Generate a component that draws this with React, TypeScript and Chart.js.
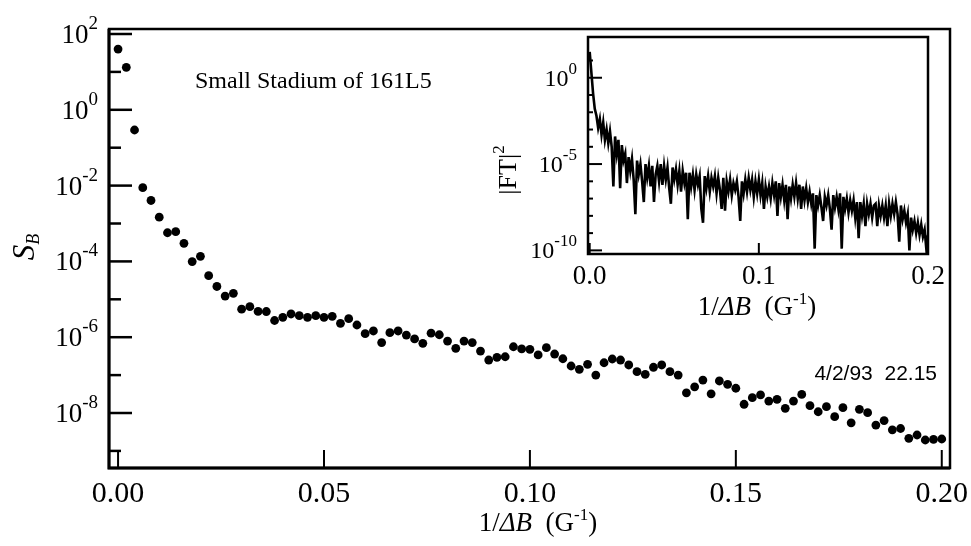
import React, { useEffect, useRef } from "react";
import { Chart, registerables } from "chart.js";

Chart.register(...registerables);

// ---------- main panel data ----------
const mainX = [
  0, 0.002, 0.004, 0.006, 0.008, 0.01, 0.012, 0.014, 0.016, 0.018,
  0.02, 0.022, 0.024, 0.026, 0.028, 0.03, 0.032, 0.034, 0.036, 0.038,
  0.04, 0.042, 0.044, 0.046, 0.048, 0.05, 0.052, 0.054, 0.056, 0.058,
  0.06, 0.062, 0.064, 0.066, 0.068, 0.07, 0.072, 0.074, 0.076, 0.078,
  0.08, 0.082, 0.084, 0.086, 0.088, 0.09, 0.092, 0.094, 0.096, 0.098,
  0.1, 0.102, 0.104, 0.106, 0.108, 0.11, 0.112, 0.114, 0.116, 0.118,
  0.12, 0.122, 0.124, 0.126, 0.128, 0.13, 0.132, 0.134, 0.136, 0.138,
  0.14, 0.142, 0.144, 0.146, 0.148, 0.15, 0.152, 0.154, 0.156, 0.158,
  0.16, 0.162, 0.164, 0.166, 0.168, 0.17, 0.172, 0.174, 0.176, 0.178,
  0.18, 0.182, 0.184, 0.186, 0.188, 0.19, 0.192, 0.194, 0.196, 0.198,
  0.2,
];
const mainSB = [
  40, 13.2, 0.293, 8.8e-3, 4.05e-3, 1.47e-3, 5.7e-4, 6.1e-4, 3.0e-4, 9.9e-5,
  1.36e-4, 4.2e-5, 2.18e-5, 1.22e-5, 1.44e-5, 5.5e-6, 6.4e-6, 4.8e-6, 4.76e-6, 2.76e-6,
  3.35e-6, 4.1e-6, 3.69e-6, 3.35e-6, 3.69e-6, 3.35e-6, 3.56e-6, 2.33e-6, 3.08e-6, 2.1e-6,
  1.24e-6, 1.46e-6, 7.2e-7, 1.32e-6, 1.46e-6, 1.14e-6, 9.0e-7, 6.9e-7, 1.28e-6, 1.16e-6,
  7.9e-7, 5.1e-7, 7.9e-7, 7.2e-7, 4.3e-7, 2.5e-7, 2.95e-7, 3.05e-7, 5.6e-7, 4.9e-7,
  4.8e-7, 3.4e-7, 5.3e-7, 3.6e-7, 2.7e-7, 1.74e-7, 1.42e-7, 1.93e-7, 1.0e-7, 2.12e-7,
  2.66e-7, 2.5e-7, 1.85e-7, 1.23e-7, 1.05e-7, 1.61e-7, 1.85e-7, 1.23e-7, 1.0e-7, 3.4e-8,
  4.9e-8, 7.4e-8, 3.2e-8, 7.0e-8, 5.7e-8, 4.5e-8, 1.7e-8, 2.54e-8, 3.0e-8, 2.07e-8,
  2.3e-8, 1.33e-8, 2.07e-8, 3.1e-8, 1.56e-8, 1.08e-8, 1.47e-8, 8.0e-9, 1.38e-8, 5.5e-9,
  1.25e-8, 1.02e-8, 4.8e-9, 6.3e-9, 3.6e-9, 3.9e-9, 2.15e-9, 2.63e-9, 1.94e-9, 2.02e-9,
  2.06e-9,
];
const mainXTicks = [0, 0.05, 0.1, 0.15, 0.2];
const mainXTickLabels = ["0.00", "0.05", "0.10", "0.15", "0.20"];
const mainYLabelExps = [2, 0, -2, -4, -6, -8];
const mainYMinorExps = [1, -1, -3, -5, -7, -9];

// ---------- inset data (log10 of |FT|^2, sampled every 0.001 G^-1) ----------
const insetDx = 0.001;
const insetLogFT = [
  1.5, 0.3, -0.9, -1.8, -2.2, -2.9, -2.4, -3.3, -2.6, -3.6,
  -3.0, -3.8, -3.1, -4.0, -6.3, -3.4, -4.4, -3.6, -6.4, -3.9,
  -4.8, -4.4, -6.1, -4.6, -5.4, -4.7, -5.9, -7.9, -4.8, -5.6,
  -5.0, -6.0, -7.2, -5.0, -5.8, -5.1, -6.3, -5.1, -7.2, -5.6,
  -5.1, -6.0, -5.0, -6.2, -5.1, -5.9, -5.2, -6.4, -7.3, -5.2,
  -5.9, -5.3, -6.2, -5.4, -6.6, -5.4, -6.1, -5.5, -8.2, -5.5,
  -6.3, -5.6, -6.5, -5.6, -6.2, -5.7, -7.6, -8.4, -5.7, -6.4,
  -5.7, -6.6, -5.8, -6.3, -5.7, -6.7, -5.8, -6.5, -7.6, -5.8,
  -7.7, -6.0, -6.6, -5.9, -6.8, -6.1, -6.5, -6.0, -6.9, -8.3,
  -6.0, -6.7, -5.9, -6.6, -5.8, -6.5, -5.9, -6.9, -6.0, -6.7,
  -5.9, -6.8, -6.1, -7.6, -6.3, -6.9, -6.3, -7.0, -6.1, -6.8,
  -6.0, -8.0, -6.1, -6.9, -6.2, -7.1, -6.2, -8.2, -6.3, -7.0,
  -6.2, -6.9, -6.1, -7.0, -6.2, -7.6, -6.3, -7.1, -6.4, -7.2,
  -6.6, -7.3, -6.7, -9.9, -6.8, -7.4, -6.8, -7.5, -8.3, -6.9,
  -7.4, -6.8, -7.6, -8.8, -6.8, -7.5, -6.9, -7.6, -6.7, -9.9,
  -6.9, -7.6, -7.0, -7.8, -7.1, -7.7, -7.1, -8.1, -7.2, -9.3,
  -7.2, -8.0, -7.3, -8.6, -7.3, -7.9, -7.3, -8.1, -7.4, -7.3,
  -8.6, -7.4, -8.0, -7.4, -8.1, -7.4, -8.6, -7.3, -8.0, -7.3,
  -7.9, -7.2, -7.9, -9.5, -7.4, -8.2, -7.7, -8.4, -7.9, -10.0,
  -8.1, -8.8, -8.3, -9.0, -8.4, -9.1, -8.5, -9.2, -8.8, -9.9,
  -9.1,
];
const insetXTicks = [0, 0.1, 0.2];
const insetXTickLabels = ["0.0", "0.1", "0.2"];
const insetYLabelExps = [0, -5, -10];
const insetYMinorExps = [1, -1, -2, -3, -4, -6, -7, -8, -9];

const SERIF = '"Liberation Serif", "Times New Roman", serif';
const SANS = '"Liberation Sans", Arial, sans-serif';

type Piece = { t: string; size: number; italic?: boolean; dy?: number };

function drawPieces(ctx: CanvasRenderingContext2D, pieces: Piece[], cx: number, baseY: number) {
  let total = 0;
  for (const p of pieces) {
    ctx.font = `${p.italic ? "italic " : ""}${p.size}px ${SERIF}`;
    total += ctx.measureText(p.t).width;
  }
  let x = cx - total / 2;
  ctx.textAlign = "left";
  ctx.textBaseline = "alphabetic";
  for (const p of pieces) {
    ctx.font = `${p.italic ? "italic " : ""}${p.size}px ${SERIF}`;
    ctx.fillText(p.t, x, baseY + (p.dy || 0));
    x += ctx.measureText(p.t).width;
  }
}

function drawPow(ctx: CanvasRenderingContext2D, exp: string, xRight: number, yMid: number, base: number, sup: number, raise: number) {
  ctx.textBaseline = "alphabetic";
  ctx.font = `${sup}px ${SERIF}`;
  const ew = ctx.measureText(exp).width;
  ctx.textAlign = "left";
  ctx.fillText(exp, xRight - ew, yMid - raise);
  ctx.font = `${base}px ${SERIF}`;
  ctx.textAlign = "right";
  ctx.fillText("10", xRight - ew, yMid + base * 0.33);
}

const mainDecor = {
  id: "mainDecor",
  afterDraw(chart: any) {
    const { ctx, chartArea: a, scales } = chart;
    const x = scales.x, y = scales.y;
    ctx.save();
    ctx.fillStyle = "#000";
    ctx.strokeStyle = "#000";
    // frame
    ctx.lineWidth = 2.5;
    ctx.strokeRect(a.left, a.top, a.right - a.left, a.bottom - a.top);
    ctx.lineWidth = 3;
    ctx.beginPath();
    ctx.moveTo(a.left, a.top);
    ctx.lineTo(a.left, a.bottom);
    ctx.lineTo(a.right, a.bottom);
    ctx.stroke();
    // y ticks
    ctx.lineWidth = 2.5;
    for (const e of mainYLabelExps) {
      const py = y.getPixelForValue(Math.pow(10, e));
      ctx.beginPath(); ctx.moveTo(a.left, py); ctx.lineTo(a.left + 23, py); ctx.stroke();
      drawPow(ctx, String(e), a.left - 11, py, 27, 19, 5);
    }
    for (const e of mainYMinorExps) {
      const py = y.getPixelForValue(Math.pow(10, e));
      ctx.beginPath(); ctx.moveTo(a.left, py); ctx.lineTo(a.left + 12, py); ctx.stroke();
    }
    // x ticks
    ctx.lineWidth = 2;
    mainXTicks.forEach((v, i) => {
      const px = x.getPixelForValue(v);
      ctx.beginPath(); ctx.moveTo(px, a.bottom); ctx.lineTo(px, a.bottom - 18); ctx.stroke();
      ctx.font = `30px ${SERIF}`;
      ctx.textAlign = "center";
      ctx.textBaseline = "alphabetic";
      ctx.fillText(mainXTickLabels[i], px, a.bottom + 34);
    });
    // x title
    drawPieces(ctx, [
      { t: "1/", size: 27 },
      { t: "ΔB", size: 27, italic: true },
      { t: "  (G", size: 27 },
      { t: "-1", size: 17, dy: -11 },
      { t: ")", size: 27 },
    ], 538, 531);
    // y title
    ctx.save();
    ctx.translate(34, 247);
    ctx.rotate(-Math.PI / 2);
    ctx.textAlign = "left";
    ctx.textBaseline = "alphabetic";
    ctx.font = `italic 31px ${SERIF}`;
    const sw = ctx.measureText("S").width;
    ctx.font = `italic 18px ${SERIF}`;
    const bw = ctx.measureText("B").width;
    const start = -(sw + bw) / 2;
    ctx.font = `italic 31px ${SERIF}`;
    ctx.fillText("S", start, 0);
    ctx.font = `italic 18px ${SERIF}`;
    ctx.fillText("B", start + sw, 5);
    ctx.restore();
    // title
    ctx.font = `24px ${SERIF}`;
    ctx.textAlign = "left";
    ctx.fillText("Small Stadium of 161L5", 195, 88);
    // date stamp
    ctx.font = `21px ${SANS}`;
    ctx.textAlign = "right";
    ctx.fillText("4/2/93  22.15", 937, 380);
    ctx.restore();
  },
};

const insetDecor = {
  id: "insetDecor",
  afterDraw(chart: any) {
    const { ctx, chartArea: a, scales } = chart;
    const x = scales.x, y = scales.y;
    ctx.save();
    ctx.fillStyle = "#000";
    ctx.strokeStyle = "#000";
    ctx.lineWidth = 2.5;
    ctx.strokeRect(a.left, a.top, a.right - a.left, a.bottom - a.top);
    ctx.lineWidth = 2;
    for (const e of insetYLabelExps) {
      const py = y.getPixelForValue(Math.pow(10, e));
      ctx.beginPath(); ctx.moveTo(a.left, py); ctx.lineTo(a.left + 14, py); ctx.stroke();
      drawPow(ctx, String(e), a.left - 11, py, 24, 17, 4);
    }
    for (const e of insetYMinorExps) {
      const py = y.getPixelForValue(Math.pow(10, e));
      ctx.beginPath(); ctx.moveTo(a.left, py); ctx.lineTo(a.left + 5, py); ctx.stroke();
    }
    insetXTicks.forEach((v, i) => {
      const px = x.getPixelForValue(v);
      ctx.beginPath(); ctx.moveTo(px, a.bottom); ctx.lineTo(px, a.bottom - 11); ctx.stroke();
      ctx.font = `27px ${SERIF}`;
      ctx.textAlign = "center";
      ctx.textBaseline = "alphabetic";
      ctx.fillText(insetXTickLabels[i], px, a.bottom + 30);
    });
    drawPieces(ctx, [
      { t: "1/", size: 27 },
      { t: "ΔB", size: 27, italic: true },
      { t: "  (G", size: 27 },
      { t: "-1", size: 17, dy: -11 },
      { t: ")", size: 27 },
    ], (a.left + a.right) / 2 - 1, 285);
    // y title |FT|^2
    ctx.save();
    ctx.translate(26, 140);
    ctx.rotate(-Math.PI / 2);
    ctx.textBaseline = "alphabetic";
    ctx.font = `26px ${SERIF}`;
    const w1 = ctx.measureText("|FT|").width;
    ctx.font = `17px ${SERIF}`;
    const w2 = ctx.measureText("2").width;
    const s = -(w1 + w2) / 2;
    ctx.textAlign = "left";
    ctx.font = `26px ${SERIF}`;
    ctx.fillText("|FT|", s, 0);
    ctx.font = `17px ${SERIF}`;
    ctx.fillText("2", s + w1, -12);
    ctx.restore();
    ctx.restore();
  },
};

export default function App() {
  const mainRef = useRef<HTMLCanvasElement>(null);
  const insetRef = useRef<HTMLCanvasElement>(null);

  useEffect(() => {
    const main = new Chart(mainRef.current!, {
      type: "scatter",
      data: {
        datasets: [
          {
            data: mainX.map((v, i) => ({ x: v, y: mainSB[i] })),
            backgroundColor: "#000",
            borderColor: "#000",
            borderWidth: 0,
            pointRadius: 4.4,
          },
        ],
      },
      options: {
        responsive: false,
        animation: false,
        devicePixelRatio: 1,
        layout: { padding: { left: 109, top: 29, right: 21, bottom: 78 } },
        plugins: { legend: { display: false }, tooltip: { enabled: false } },
        scales: {
          x: { type: "linear", display: false, min: -0.0022, max: 0.202 },
          y: { type: "logarithmic", display: false, min: Math.pow(10, -9.451), max: Math.pow(10, 2.132) },
        },
      },
      plugins: [mainDecor],
    });

    const inset = new Chart(insetRef.current!, {
      type: "line",
      data: {
        datasets: [
          {
            data: insetLogFT.map((v, i) => ({ x: i * insetDx, y: Math.pow(10, v) })),
            borderColor: "#000",
            borderWidth: 2.6,
            pointRadius: 0,
            tension: 0,
          },
        ],
      },
      options: {
        responsive: false,
        animation: false,
        devicePixelRatio: 1,
        layout: { padding: { left: 98, top: 7, right: 22, bottom: 76 } },
        plugins: { legend: { display: false }, tooltip: { enabled: false } },
        scales: {
          x: { type: "linear", display: false, min: -0.001, max: 0.2 },
          y: { type: "logarithmic", display: false, min: Math.pow(10, -10.21), max: Math.pow(10, 2.36) },
        },
      },
      plugins: [insetDecor],
    });

    return () => {
      main.destroy();
      inset.destroy();
    };
  }, []);

  return (
    <div style={{ position: "absolute", left: 0, top: 0, width: 971, height: 546, background: "#fff" }}>
      <canvas ref={mainRef} width={971} height={546} style={{ position: "absolute", left: 0, top: 0 }} />
      <canvas ref={insetRef} width={460} height={300} style={{ position: "absolute", left: 490, top: 30 }} />
    </div>
  );
}
